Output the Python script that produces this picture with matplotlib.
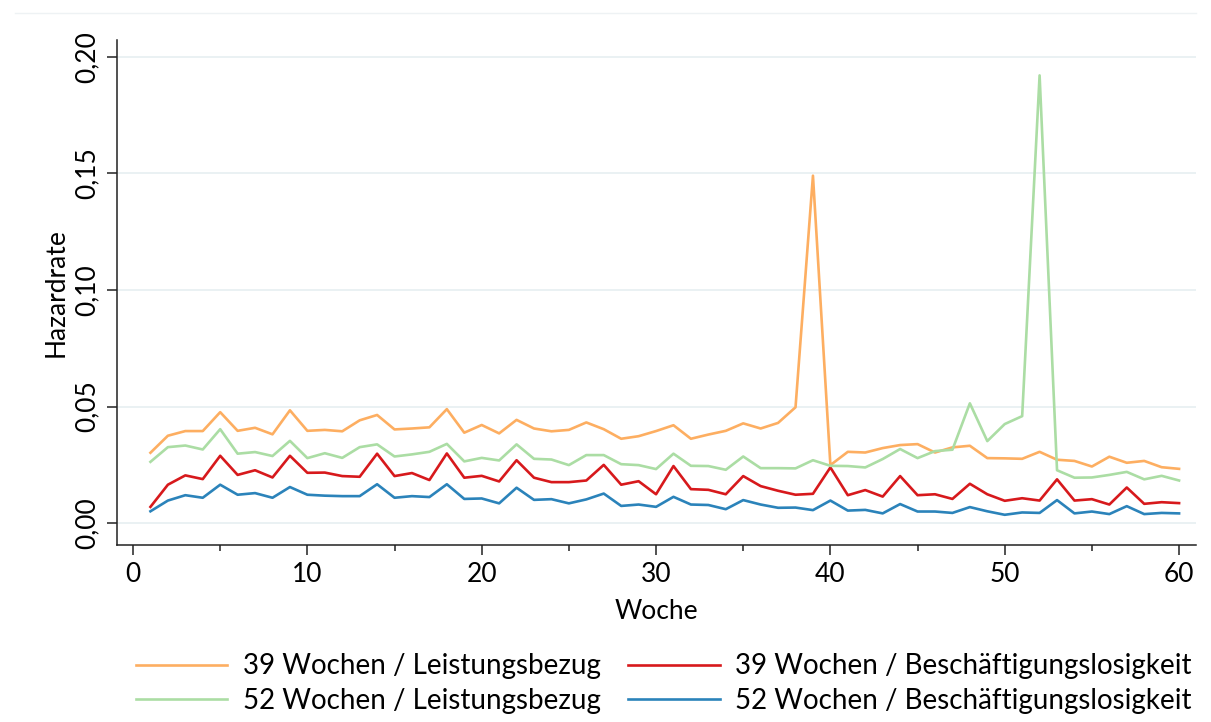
import matplotlib
matplotlib.use("Agg")
import matplotlib.pyplot as plt
from matplotlib.ticker import FuncFormatter, MultipleLocator

plt.rcParams['font.family'] = ['Lato', 'DejaVu Sans']

weeks = list(range(1, 61))

# 39 Wochen / Leistungsbezug
orange_39_lb = [0.0302, 0.0375, 0.0395, 0.0395, 0.0476, 0.0396, 0.0409, 0.0381, 0.0484, 0.0396,
                0.0400, 0.0394, 0.0441, 0.0464, 0.0402, 0.0406, 0.0411, 0.0489, 0.0388, 0.0421,
                0.0385, 0.0443, 0.0406, 0.0394, 0.0400, 0.0432, 0.0403, 0.0362, 0.0373, 0.0395,
                0.0420, 0.0362, 0.0380, 0.0396, 0.0428, 0.0406, 0.0430, 0.0497, 0.1490, 0.0249,
                0.0306, 0.0303, 0.0322, 0.0335, 0.0339, 0.0303, 0.0325, 0.0332, 0.0279, 0.0278,
                0.0276, 0.0306, 0.0272, 0.0267, 0.0243, 0.0285, 0.0259, 0.0267, 0.0240, 0.0233]

# 52 Wochen / Leistungsbezug
green_52_lb = [0.0263, 0.0326, 0.0333, 0.0316, 0.0403, 0.0298, 0.0305, 0.0288, 0.0353, 0.0279,
               0.0300, 0.0280, 0.0326, 0.0338, 0.0286, 0.0295, 0.0306, 0.0340, 0.0265, 0.0280,
               0.0269, 0.0338, 0.0276, 0.0273, 0.0249, 0.0292, 0.0292, 0.0253, 0.0249, 0.0232,
               0.0298, 0.0246, 0.0245, 0.0229, 0.0286, 0.0236, 0.0236, 0.0235, 0.0270, 0.0246,
               0.0245, 0.0239, 0.0275, 0.0318, 0.0279, 0.0309, 0.0315, 0.0514, 0.0352, 0.0425,
               0.0459, 0.1920, 0.0227, 0.0195, 0.0196, 0.0207, 0.0220, 0.0188, 0.0203, 0.0183]

# 39 Wochen / Beschäftigungslosigkeit
red_39_bl = [0.0070, 0.0165, 0.0205, 0.0189, 0.0289, 0.0207, 0.0227, 0.0196, 0.0289, 0.0216,
             0.0217, 0.0202, 0.0199, 0.0298, 0.0202, 0.0215, 0.0185, 0.0299, 0.0195, 0.0203,
             0.0179, 0.0270, 0.0195, 0.0176, 0.0176, 0.0183, 0.0250, 0.0165, 0.0180, 0.0124,
             0.0245, 0.0146, 0.0143, 0.0124, 0.0202, 0.0159, 0.0139, 0.0122, 0.0126, 0.0239,
             0.0120, 0.0142, 0.0114, 0.0202, 0.0120, 0.0124, 0.0104, 0.0169, 0.0124, 0.0096,
             0.0107, 0.0097, 0.0188, 0.0097, 0.0103, 0.0080, 0.0153, 0.0083, 0.0090, 0.0086]

# 52 Wochen / Beschäftigungslosigkeit
blue_52_bl = [0.0051, 0.0097, 0.0120, 0.0109, 0.0165, 0.0122, 0.0129, 0.0109, 0.0155, 0.0122,
              0.0118, 0.0116, 0.0116, 0.0167, 0.0109, 0.0116, 0.0112, 0.0167, 0.0104, 0.0106,
              0.0085, 0.0152, 0.0100, 0.0103, 0.0085, 0.0102, 0.0127, 0.0074, 0.0080, 0.0070,
              0.0113, 0.0080, 0.0078, 0.0060, 0.0099, 0.0080, 0.0066, 0.0067, 0.0056, 0.0097,
              0.0054, 0.0057, 0.0042, 0.0082, 0.0050, 0.0050, 0.0044, 0.0069, 0.0051, 0.0036,
              0.0046, 0.0044, 0.0099, 0.0042, 0.0050, 0.0039, 0.0073, 0.0039, 0.0044, 0.0042]

labels = ["39 Wochen / Leistungsbezug", "52 Wochen / Leistungsbezug",
          "39 Wochen / Beschäftigungslosigkeit", "52 Wochen / Beschäftigungslosigkeit"]

fs = 19

fig = plt.figure(figsize=(12.11, 7.22), dpi=100)
ax = fig.add_axes([0.0966, 0.245, 0.891, 0.70])

lw = 1.9
l1, = ax.plot(weeks, orange_39_lb, color="#fdae61", lw=lw)
l2, = ax.plot(weeks, red_39_bl, color="#d7191c", lw=lw)
l3, = ax.plot(weeks, green_52_lb, color="#abdda4", lw=lw)
l4, = ax.plot(weeks, blue_52_bl, color="#2b83ba", lw=lw)

ax.set_xlim(-0.92, 60.97)
ax.set_ylim(-0.0094, 0.2073)
ax.set_xticks(range(0, 61, 10))
ax.xaxis.set_minor_locator(MultipleLocator(5))
ax.set_yticks([0, 0.05, 0.10, 0.15, 0.20])
ax.yaxis.set_major_formatter(FuncFormatter(lambda v, p: f"{v:.2f}".replace(".", ",")))
for lab in ax.get_yticklabels():
    lab.set_rotation(90)
    lab.set_va("center")

ax.grid(axis="y", color="#e6eff1", lw=1.2)
ax.set_axisbelow(True)
for s in ["top", "right"]:
    ax.spines[s].set_visible(False)
for s in ["left", "bottom"]:
    ax.spines[s].set_color("#222222")
    ax.spines[s].set_linewidth(1.1)
ax.tick_params(which="major", labelsize=fs, length=7.5, width=1.1, color="#222222", pad=5)
ax.tick_params(which="minor", length=4, width=1.1, color="#222222")
ax.set_xlabel("Woche", fontsize=fs, labelpad=8)
ax.set_ylabel("Hazardrate", fontsize=fs, labelpad=4)

fig.legend([l1, l3, l2, l4], labels, ncol=2, loc="lower center",
           bbox_to_anchor=(0.548, -0.023), frameon=False, fontsize=20,
           handlelength=3.3, handletextpad=0.55, columnspacing=1.0, labelspacing=0.3)

fig.add_artist(plt.Line2D([0.012, 0.988], [0.982, 0.982], color="#eef2f4", lw=1))

fig.savefig("out.png", dpi=100)
